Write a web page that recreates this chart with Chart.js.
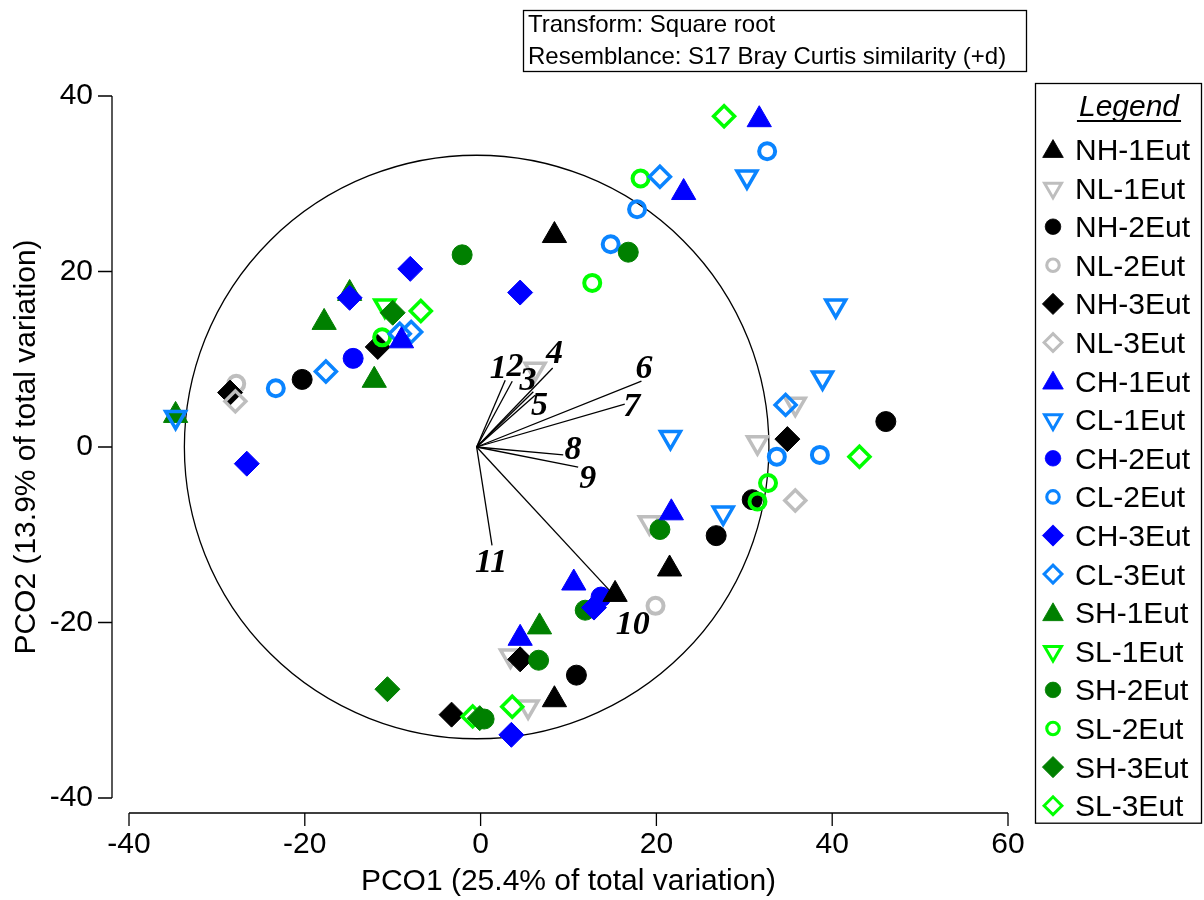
<!DOCTYPE html>
<html>
<head>
<meta charset="utf-8">
<title>PCO</title>
<script src="https://cdn.jsdelivr.net/npm/chart.js@4.4.1/dist/chart.umd.min.js"></script>
<style>
  html, body { margin: 0; padding: 0; background: #fff; }
  #wrap { width: 1204px; height: 900px; }
</style>
</head>
<body>
<div id="wrap"><canvas id="pcoChart" width="1204" height="900"></canvas></div>
<script>
// groups, in legend order
const seriesNames = ['NH-1Eut', 'NL-1Eut', 'NH-2Eut', 'NL-2Eut', 'NH-3Eut', 'NL-3Eut',
  'CH-1Eut', 'CL-1Eut', 'CH-2Eut', 'CL-2Eut', 'CH-3Eut', 'CL-3Eut',
  'SH-1Eut', 'SL-1Eut', 'SH-2Eut', 'SL-2Eut', 'SH-3Eut', 'SL-3Eut'];

// sample scores [PCO1, PCO2]
const nh1 = [[8.4, 24.1], [21.5, -13.9], [15.3, -16.8], [8.4, -28.8]];
const nl1 = [[6.2, 8.9], [35.8, 4.9], [31.5, 0.5], [19.2, -8.6], [3.4, -23.8], [5.4, -29.6]];
const nh2 = [[-20.3, 7.7], [46.1, 2.9], [30.9, -6.0], [26.8, -10.1], [10.9, -26.0]];
const nl2 = [[-27.8, 7.2], [19.9, -18.1]];
const nh3 = [[-28.5, 6.2], [-11.7, 11.4], [34.9, 0.9], [4.5, -24.2], [-3.3, -30.5]];
const nl3 = [[-27.9, 5.2], [35.8, -6.1]];
const ch1 = [[31.7, 37.3], [23.1, 29.0], [-9.0, 12.1], [21.7, -7.5], [10.6, -15.5], [4.5, -21.8]];
const cl1 = [[30.3, 30.8], [40.4, 16.1], [38.9, 7.9], [21.6, 1.1], [27.6, -7.5], [-34.7, 3.4]];
const ch2 = [[-14.5, 10.1], [13.7, -17.1]];
const cl2 = [[32.6, 33.7], [17.8, 27.1], [14.8, 23.1], [-23.3, 6.7], [33.7, -1.1], [38.6, -0.9]];
const ch3 = [[4.5, 17.6], [-8.0, 20.3], [-14.9, 17.0], [-26.6, -1.9], [12.9, -18.3], [3.5, -32.8]];
const cl3 = [[20.4, 30.8], [-17.6, 8.6], [-9.2, 12.9], [-7.9, 13.1], [34.7, 4.8]];
const sh1 = [[-17.8, 14.2], [-14.9, 17.5], [-12.1, 7.6], [-34.7, 3.6], [6.7, -20.5]];
const sl1 = [[-10.9, 16.1]];
const sh2 = [[-2.1, 21.9], [16.8, 22.2], [20.4, -9.4], [11.9, -18.6], [6.6, -24.3], [0.4, -31.0]];
const sl2 = [[18.2, 30.6], [12.7, 18.7], [-11.2, 12.5], [32.7, -4.1], [31.5, -6.2]];
const sh3 = [[-10.0, 15.3], [-10.6, -27.6], [-0.1, -30.9]];
const sl3 = [[27.7, 37.7], [-6.8, 15.5], [43.1, -1.1], [3.6, -29.6], [-0.9, -30.7]];

const seriesPoints = [nh1, nl1, nh2, nl2, nh3, nl3, ch1, cl1, ch2, cl2, ch3, cl3, sh1, sl1, sh2, sl2, sh3, sl3];

const xTicks = [-40, -20, 0, 20, 40, 60];
const yTicks = [-40, -20, 0, 20, 40];

// variable vectors (correlation overlay)
const vectorLabels = ['1', '2', '3', '4', '5', '6', '7', '8', '9', '10', '11'];
const vectorX = [2.8, 3.6, 6.0, 8.2, 6.2, 18.3, 16.4, 9.4, 11.1, 14.9, 1.3];
const vectorY = [7.6, 7.5, 6.3, 9.0, 5.9, 7.5, 4.9, -0.9, -2.3, -16.6, -11.2];
const vectorOrigin = [-0.45, 0];
const labelX = [2.0, 3.9, 5.4, 8.4, 6.7, 18.6, 17.2, 10.5, 12.2, 17.3, 1.2];
const labelY = [8.9, 9.1, 7.5, 10.6, 4.7, 8.9, 4.5, -0.4, -3.7, -20.3, -13.2];
const circleRadius = 33.25;

// styles
const darkColors = ['#000000', '#0000ff', '#008000'];
const lightColors = ['#bebebe', '#0a84ff', '#00ff00'];
const topToBottom = ['CH-1Eut', 'CH-3Eut', 'CL-1Eut', 'CL-3Eut', 'SH-3Eut', 'SL-2Eut', 'NH-1Eut', 'NL-3Eut',
  'SL-3Eut', 'SH-2Eut', 'NH-3Eut', 'CL-2Eut', 'SL-1Eut', 'SH-1Eut', 'NH-2Eut', 'CH-2Eut', 'NL-1Eut', 'NL-2Eut'];
const sansFont = '"Liberation Sans", Arial, sans-serif';

function styleFor(i) {
  const site = Math.floor(i / 6);
  const open = i % 2 === 1;
  const kind = Math.floor(i / 2) % 3; // 0 triangle, 1 circle, 2 diamond
  const color = open ? lightColors[site] : darkColors[site];
  let pointStyle, radius, border, rotation = 0;
  if (kind === 0) {
    pointStyle = 'triangle';
    if (open) { rotation = 180; radius = 11.5; border = 3.5; } else { radius = 14; border = 1; }
  } else if (kind === 1) {
    pointStyle = 'circle';
    radius = open ? 8 : 10; border = open ? 4 : 1;
  } else {
    pointStyle = 'rectRot';
    radius = open ? 10.5 : 12.5; border = open ? 3.5 : 1;
  }
  return { color, open, pointStyle, radius, border, rotation };
}

const datasets = seriesNames.map((name, i) => {
  const s = styleFor(i);
  return {
    label: name,
    data: seriesPoints[i].map(p => ({ x: p[0], y: p[1] })),
    pointStyle: s.pointStyle,
    pointRotation: s.rotation,
    pointRadius: s.radius,
    pointBorderWidth: s.border,
    borderColor: s.color,
    pointBorderColor: s.color,
    backgroundColor: s.open ? 'rgba(0,0,0,0)' : s.color,
    pointBackgroundColor: s.open ? 'rgba(0,0,0,0)' : s.color,
    showLine: false,
    order: topToBottom.indexOf(name)
  };
});

// vectors as two-point line datasets
vectorX.forEach((vx, k) => {
  datasets.push({
    label: 'v' + vectorLabels[k],
    data: [{ x: vectorOrigin[0], y: vectorOrigin[1] }, { x: vx, y: vectorY[k] }],
    showLine: true,
    borderColor: '#000',
    borderWidth: 1.3,
    pointRadius: 0,
    tension: 0,
    order: 100
  });
});

function markerPath(ctx, s, x, y, scale) {
  const opts = { pointStyle: s.pointStyle, rotation: s.rotation, radius: s.radius * scale, borderWidth: s.border * scale };
  ctx.fillStyle = s.open ? 'rgba(0,0,0,0)' : s.color;
  ctx.strokeStyle = s.color;
  ctx.lineWidth = opts.borderWidth;
  if (Chart.helpers && Chart.helpers.drawPoint) {
    Chart.helpers.drawPoint(ctx, opts, x, y);
  }
}

const decorPlugin = {
  id: 'decor',
  beforeDatasetsDraw(chart) {
    const { ctx, scales: { x, y } } = chart;
    const cx = x.getPixelForValue(vectorOrigin[0]);
    const cy = y.getPixelForValue(vectorOrigin[1]);
    const rx = Math.abs(x.getPixelForValue(vectorOrigin[0] + circleRadius) - cx);
    const ry = Math.abs(y.getPixelForValue(vectorOrigin[1] + circleRadius) - cy);
    ctx.save();
    ctx.strokeStyle = '#000';
    ctx.lineWidth = 1.3;
    ctx.beginPath();
    ctx.ellipse(cx, cy, rx, ry, 0, 0, Math.PI * 2);
    ctx.stroke();
    ctx.restore();
  },
  afterDatasetsDraw(chart) {
    const { ctx, scales: { x, y } } = chart;
    ctx.save();
    ctx.fillStyle = '#000';
    ctx.font = 'italic bold 34px "Liberation Serif", "Times New Roman", serif';
    ctx.textAlign = 'center';
    ctx.textBaseline = 'middle';
    vectorLabels.forEach((lab, k) => {
      ctx.fillText(lab, x.getPixelForValue(labelX[k]), y.getPixelForValue(labelY[k]));
    });
    ctx.restore();
  },
  afterDraw(chart) {
    const { ctx, chartArea, scales: { x, y } } = chart;
    ctx.save();
    ctx.strokeStyle = '#000';
    ctx.lineWidth = 1.3;

    // offset axes
    const axX = chartArea.left - 17;
    const axY = chartArea.bottom + 15;
    ctx.beginPath();
    ctx.moveTo(axX, y.getPixelForValue(yTicks[yTicks.length - 1]));
    ctx.lineTo(axX, y.getPixelForValue(yTicks[0]));
    yTicks.forEach(v => {
      const p = y.getPixelForValue(v);
      ctx.moveTo(axX - 14, p);
      ctx.lineTo(axX, p);
    });
    ctx.moveTo(x.getPixelForValue(xTicks[0]), axY);
    ctx.lineTo(x.getPixelForValue(xTicks[xTicks.length - 1]), axY);
    xTicks.forEach(v => {
      const p = x.getPixelForValue(v);
      ctx.moveTo(p, axY);
      ctx.lineTo(p, axY + 13);
    });
    ctx.stroke();

    // info box
    ctx.strokeRect(523.5, 10.5, 503, 61);
    ctx.fillStyle = '#000';
    ctx.font = '24px ' + sansFont;
    ctx.textAlign = 'left';
    ctx.textBaseline = 'alphabetic';
    ctx.fillText('Transform: Square root', 528, 32);
    ctx.fillText('Resemblance: S17 Bray Curtis similarity (+d)', 528, 64);

    // legend
    const lgLeft = 1035, lgTop = 83, lgRight = 1201;
    const rowTop = 149.5, rowStep = 38.6;
    const lgBottom = rowTop + rowStep * (seriesNames.length - 1) + 17;
    ctx.strokeRect(lgLeft + 0.5, lgTop + 0.5, lgRight - lgLeft, lgBottom - lgTop);
    ctx.font = 'italic 30px ' + sansFont;
    ctx.textAlign = 'center';
    ctx.fillText('Legend', 1129, 116);
    const tw = ctx.measureText('Legend').width;
    ctx.lineWidth = 2;
    ctx.beginPath();
    ctx.moveTo(1129 - tw / 2 - 2, 121);
    ctx.lineTo(1129 + tw / 2 + 2, 121);
    ctx.stroke();

    ctx.font = '30px ' + sansFont;
    ctx.textAlign = 'left';
    seriesNames.forEach((name, i) => {
      const yy = rowTop + rowStep * i;
      const s = styleFor(i);
      const sc = s.pointStyle === 'circle' ? 0.78 : 0.85;
      ctx.save();
      markerPath(ctx, s, 1053, s.pointStyle === 'triangle' && !s.open ? yy + 2 : yy, sc);
      ctx.restore();
      ctx.fillStyle = '#000';
      ctx.fillText(name, 1075, yy + 10.5);
    });
    ctx.restore();
  }
};

const tickFont = { family: sansFont, size: 30 };

new Chart(document.getElementById('pcoChart').getContext('2d'), {
  type: 'scatter',
  data: { datasets: datasets },
  options: {
    responsive: false,
    animation: false,
    devicePixelRatio: 1,
    events: [],
    layout: { padding: { top: 96, right: 196, bottom: 0, left: 0 } },
    plugins: {
      legend: { display: false },
      tooltip: { enabled: false }
    },
    scales: {
      x: {
        type: 'linear',
        min: xTicks[0],
        max: xTicks[xTicks.length - 1],
        afterBuildTicks: s => { s.ticks = xTicks.map(v => ({ value: v })); },
        afterFit: s => { s.height = 102; },
        grid: { display: false, drawTicks: false },
        border: { display: false },
        ticks: { color: '#000', font: tickFont, padding: 29, maxRotation: 0, autoSkip: false, callback: v => String(v) },
        title: { display: true, text: 'PCO1 (25.4% of total variation)', color: '#000', font: tickFont, padding: { top: 0, bottom: 0 } }
      },
      y: {
        type: 'linear',
        min: yTicks[0],
        max: yTicks[yTicks.length - 1],
        afterBuildTicks: s => { s.ticks = yTicks.map(v => ({ value: v })); },
        afterFit: s => { s.width = 129; },
        grid: { display: false, drawTicks: false },
        border: { display: false },
        ticks: { color: '#000', font: tickFont, padding: 36, autoSkip: false, callback: v => String(v) },
        title: { display: true, text: 'PCO2 (13.9% of total variation)', color: '#000', font: tickFont, padding: { top: 9, bottom: 0 } }
      }
    }
  },
  plugins: [decorPlugin]
});
</script>
</body>
</html>
